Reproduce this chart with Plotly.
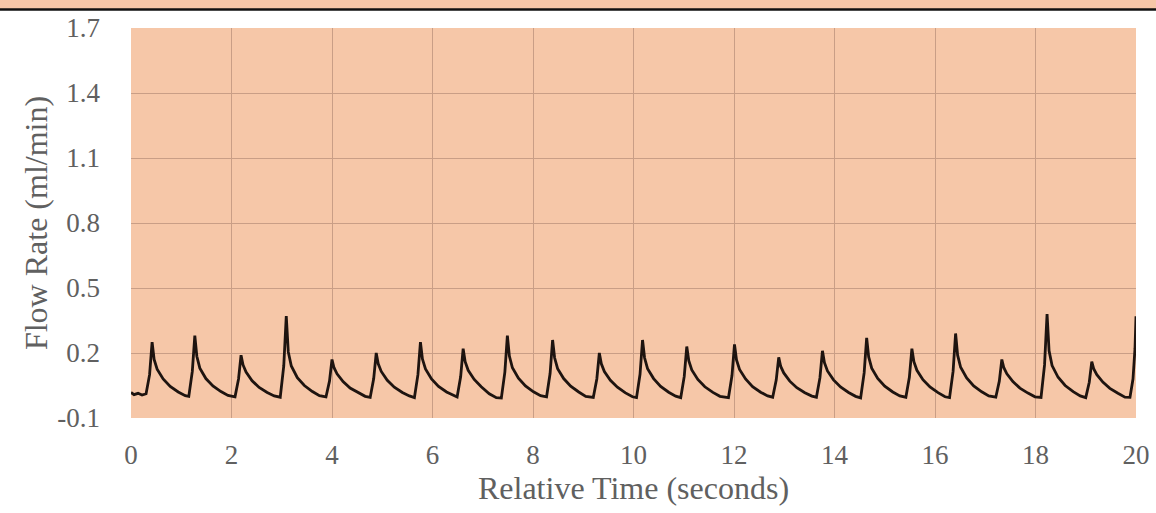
import plotly.graph_objects as go

# Flow-rate trace: relative time (s) and flow rate (ml/min), one row per beat
time_s = [
    0.00, 0.06, 0.14, 0.22, 0.30, 0.37, 0.42, 0.46, 0.52, 0.64, 0.78, 0.94, 1.08,
    1.15, 1.22, 1.27, 1.31, 1.37, 1.49, 1.63, 1.79, 1.93,
    2.07, 2.14, 2.19, 2.23, 2.29, 2.41, 2.55, 2.71, 2.85,
    2.97, 3.04, 3.09, 3.13, 3.19, 3.31, 3.45, 3.61, 3.75,
    3.88, 3.95, 4.00, 4.04, 4.10, 4.22, 4.36, 4.52, 4.66,
    4.76, 4.83, 4.88, 4.92, 4.98, 5.10, 5.24, 5.40, 5.54,
    5.64, 5.71, 5.76, 5.80, 5.86, 5.98, 6.12, 6.28, 6.42,
    6.49, 6.56, 6.61, 6.65, 6.71, 6.83, 6.97, 7.13, 7.27,
    7.37, 7.44, 7.49, 7.53, 7.59, 7.71, 7.85, 8.01, 8.15,
    8.27, 8.34, 8.39, 8.43, 8.49, 8.61, 8.75, 8.91, 9.05,
    9.20, 9.27, 9.32, 9.36, 9.42, 9.54, 9.68, 9.84, 9.98,
    10.06, 10.13, 10.18, 10.22, 10.28, 10.40, 10.54, 10.70, 10.84,
    10.94, 11.01, 11.06, 11.10, 11.16, 11.28, 11.42, 11.58, 11.72,
    11.89, 11.96, 12.01, 12.05, 12.11, 12.23, 12.37, 12.53, 12.67,
    12.77, 12.84, 12.89, 12.93, 12.99, 13.11, 13.25, 13.41, 13.55,
    13.64, 13.71, 13.76, 13.80, 13.86, 13.98, 14.12, 14.28, 14.42,
    14.52, 14.59, 14.64, 14.68, 14.74, 14.86, 15.00, 15.16, 15.30,
    15.42, 15.49, 15.54, 15.58, 15.64, 15.76, 15.90, 16.06, 16.20,
    16.29, 16.36, 16.41, 16.45, 16.51, 16.63, 16.77, 16.93, 17.07,
    17.21, 17.28, 17.33, 17.37, 17.43, 17.55, 17.69, 17.85, 17.99,
    18.11, 18.18, 18.23, 18.27, 18.33, 18.45, 18.59, 18.75, 18.89,
    19.00, 19.07, 19.12, 19.16, 19.22, 19.34, 19.48, 19.64, 19.78,
    19.88, 19.94, 19.98, 20.00,
]
flow_ml_min = [
    0.018, 0.008, 0.014, 0.006, 0.012, 0.100, 0.250, 0.170, 0.125, 0.080, 0.046, 0.020, 0.003,
    0.000, 0.115, 0.280, 0.185, 0.130, 0.082, 0.048, 0.022, 0.004,
    -0.002, 0.080, 0.190, 0.145, 0.112, 0.072, 0.041, 0.018, 0.002,
    -0.004, 0.140, 0.370, 0.205, 0.140, 0.086, 0.050, 0.022, 0.003,
    -0.003, 0.070, 0.170, 0.132, 0.104, 0.068, 0.038, 0.016, 0.000,
    -0.005, 0.082, 0.200, 0.150, 0.115, 0.074, 0.042, 0.018, 0.002,
    -0.006, 0.100, 0.250, 0.172, 0.126, 0.080, 0.046, 0.020, 0.003,
    -0.003, 0.090, 0.220, 0.160, 0.120, 0.078, 0.044, 0.012, -0.006,
    -0.008, 0.112, 0.280, 0.186, 0.132, 0.084, 0.048, 0.021, 0.003,
    -0.002, 0.105, 0.260, 0.178, 0.128, 0.082, 0.047, 0.020, 0.000,
    -0.005, 0.080, 0.200, 0.150, 0.114, 0.074, 0.042, 0.016, -0.002,
    -0.006, 0.102, 0.260, 0.178, 0.128, 0.082, 0.046, 0.019, 0.001,
    -0.006, 0.092, 0.230, 0.164, 0.122, 0.078, 0.044, 0.018, 0.000,
    -0.006, 0.096, 0.240, 0.168, 0.124, 0.080, 0.045, 0.019, 0.002,
    -0.004, 0.075, 0.180, 0.138, 0.108, 0.070, 0.040, 0.017, 0.001,
    -0.004, 0.085, 0.210, 0.155, 0.117, 0.076, 0.043, 0.018, 0.000,
    -0.007, 0.108, 0.270, 0.182, 0.130, 0.083, 0.047, 0.020, 0.002,
    -0.004, 0.088, 0.220, 0.160, 0.120, 0.077, 0.043, 0.017, -0.002,
    -0.006, 0.115, 0.290, 0.190, 0.134, 0.085, 0.048, 0.021, 0.002,
    -0.004, 0.070, 0.170, 0.132, 0.104, 0.068, 0.038, 0.015, -0.002,
    -0.005, 0.145, 0.380, 0.210, 0.142, 0.088, 0.050, 0.022, 0.002,
    -0.006, 0.065, 0.160, 0.126, 0.100, 0.066, 0.037, 0.014, -0.004,
    -0.005, 0.080, 0.220, 0.370,
]

x_ticks = [0, 2, 4, 6, 8, 10, 12, 14, 16, 18, 20]
y_ticks = [-0.1, 0.2, 0.5, 0.8, 1.1, 1.4, 1.7]
y_tick_text = ["-0.1", "0.2", "0.5", "0.8", "1.1", "1.4", "1.7"]

BG = "#f6c7a8"
GRID = "#c99e86"
TEXT = "#606060"
FONT = "Liberation Serif"

fig = go.Figure()
fig.add_trace(go.Scatter(
    x=time_s, y=flow_ml_min, mode="lines",
    line=dict(color="#1e1410", width=2.8),
    hoverinfo="skip", showlegend=False, cliponaxis=False,
))

fig.update_layout(
    width=1156, height=513,
    margin=dict(l=131, r=20, t=28, b=95, autoexpand=False),
    paper_bgcolor="white", plot_bgcolor=BG,
    font=dict(family=FONT, size=27, color=TEXT),
    xaxis=dict(
        range=[0, 20], tickvals=x_ticks, showgrid=True, gridcolor=GRID, gridwidth=1,
        zeroline=False, showline=False, ticks="", ticklabelstandoff=18,
        automargin=False,
        tickfont=dict(family=FONT, size=27, color=TEXT),
        title=dict(text="Relative Time (seconds)", standoff=0,
                   font=dict(family=FONT, size=32, color=TEXT)),
    ),
    yaxis=dict(
        range=[-0.1, 1.7], tickvals=y_ticks, ticktext=y_tick_text, showgrid=True,
        gridcolor=GRID, gridwidth=1, zeroline=False, showline=False, ticks="",
        ticklabelstandoff=30, automargin=False,
        tickfont=dict(family=FONT, size=27, color=TEXT),
        title=dict(text="Flow Rate (ml/min)", standoff=0,
                   font=dict(family=FONT, size=32, color=TEXT)),
    ),
)

# Strip from the panel above: coloured band and black rule
fig.add_shape(type="rect", xref="paper", yref="paper", x0=-0.2, x1=1.1,
              y0=1 + 19 / 390, y1=1 + 40 / 390, fillcolor=BG, line_width=0, layer="below")
fig.add_shape(type="line", xref="paper", yref="paper", x0=-0.2, x1=1.1,
              y0=1 + 18.5 / 390, y1=1 + 18.5 / 390, line=dict(color="#111111", width=2.5))

fig.write_html("out.html")
